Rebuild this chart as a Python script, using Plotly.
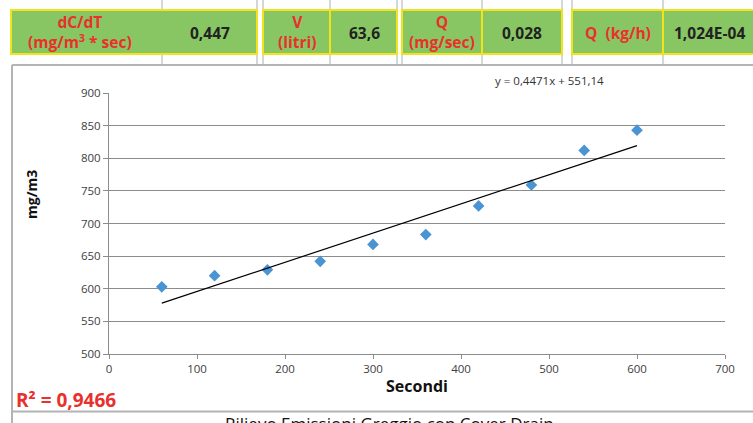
import plotly.graph_objects as go

W, H = 753, 423

# ---- data ----
seconds = [60, 120, 180, 240, 300, 360, 420, 480, 540, 600]
conc = [603, 620, 629, 642, 668, 683, 727, 759, 812, 843]
slope = [0.4471]
intercept = [551.14]
x_ticks = [0, 100, 200, 300, 400, 500, 600, 700]
y_ticks = [500, 550, 600, 650, 700, 750, 800, 850, 900]
header_labels = ["dC/dT<br>(mg/m<sup>3</sup> * sec)", "V<br>(litri)", "Q<br>(mg/sec)", "Q  (kg/h)"]
header_values = ["0,447", "63,6", "0,028", "1,024E-04"]

def px(x):
    return x / W

def py(y):
    return 1 - y / H

fig = go.Figure()

fig.add_trace(go.Scatter(
    x=seconds, y=conc, mode="markers",
    marker=dict(symbol="diamond", size=9, color="#4A94D4", line=dict(width=0)),
    showlegend=False, cliponaxis=False, hoverinfo="skip"))

tx = [seconds[0], seconds[-1]]
ty = [slope[0] * v + intercept[0] for v in tx]
fig.add_trace(go.Scatter(x=tx, y=ty, mode="lines",
                         line=dict(color="black", width=1.2), showlegend=False,
                         hoverinfo="skip"))

axis_col = "#8C8C8C"
tick_font = dict(family="Open Sans", size=11.5, color="#404040")
fig.update_xaxes(range=[0, 700], tickvals=x_ticks, domain=[px(109), px(725)],
                 automargin=False, showgrid=False, zeroline=False, showline=True,
                 linecolor=axis_col, linewidth=1, ticks="outside", ticklen=4,
                 tickcolor=axis_col, tickfont=tick_font)
fig.update_yaxes(range=[500, 900], tickvals=y_ticks, domain=[py(354), py(93)],
                 automargin=False, showgrid=True, gridcolor=axis_col, gridwidth=1,
                 zeroline=False, showline=True, linecolor=axis_col, linewidth=1,
                 ticks="outside", ticklen=5, tickcolor=axis_col, tickfont=tick_font)

shapes = []
annotations = []

def note(x, y, text, size, color, xanchor="center", yanchor="middle", **kw):
    annotations.append(dict(x=px(x), y=py(y), xref="paper", yref="paper",
                            text=text, showarrow=False, xanchor=xanchor,
                            yanchor=yanchor,
                            font=dict(family="Open Sans", size=size, color=color),
                            **kw))

# spreadsheet gridlines
grey = "#C8C8C8"
for gx in [162, 257, 263, 330, 397, 402, 482, 562, 572, 663]:
    shapes.append(dict(type="line", xref="paper", yref="paper",
                       x0=px(gx), x1=px(gx), y0=py(0), y1=py(65),
                       line=dict(color=grey, width=1.5), layer="below"))

# header cells
green = "#88C664"
yellow = "#F2E41C"
cells = [(11, 257), (263, 330), (330, 397), (402, 482), (482, 562), (572, 663), (663, 770)]
for x0, x1 in cells:
    shapes.append(dict(type="rect", xref="paper", yref="paper",
                       x0=px(x0), x1=px(x1), y0=py(54), y1=py(10),
                       fillcolor=green, line=dict(color=yellow, width=2)))

red = "#E8302D"
lab_pos = [(80, 32), (297, 32), (442, 32), (618, 33)]
for (lx, ly), t in zip(lab_pos, header_labels):
    note(lx, ly, "<b>" + t + "</b>", 15.5, red, align="center")
val_pos = [(210, "center"), (364, "center"), (522, "center"), (672, "left")]
for (vx, anc), t in zip(val_pos, header_values):
    note(vx, 33, "<b>" + t + "</b>", 15.5, "#222222", xanchor=anc)

# chart border lines
border = "#B4B4B4"
shapes.append(dict(type="line", xref="paper", yref="paper", x0=px(12), x1=1,
                   y0=py(65), y1=py(65), line=dict(color=border, width=2)))
shapes.append(dict(type="line", xref="paper", yref="paper", x0=px(12), x1=px(12),
                   y0=py(65), y1=0, line=dict(color=border, width=2)))
shapes.append(dict(type="line", xref="paper", yref="paper", x0=px(12), x1=1,
                   y0=py(411.5), y1=py(411.5), line=dict(color=border, width=2)))

# titles and labels
note(31, 195, "<b>mg/m3</b>", 14, "#111111", textangle=-90)
note(417, 386, "<b>Secondi</b>", 16, "#111111")
note(549, 80, "y = 0,4471x + 551,14", 11.5, "#333333")
note(14, 400, "<b>R² = 0,9466</b>", 19, red, xanchor="left")
note(389, 410, "Rilievo Emissioni Greggio con Cover Drain", 17, "#111111", yanchor="top")

fig.update_layout(template="none", width=W, height=H,
                  margin=dict(l=0, r=0, t=0, b=0, pad=0), autosize=False,
                  paper_bgcolor="white", plot_bgcolor="white",
                  shapes=shapes, annotations=annotations, showlegend=False,
                  hovermode=False)

fig.write_html("out.html", config={"displayModeBar": False, "responsive": False},
               post_script="document.body.style.margin='0';document.body.style.padding='0';document.body.style.overflow='hidden';")
